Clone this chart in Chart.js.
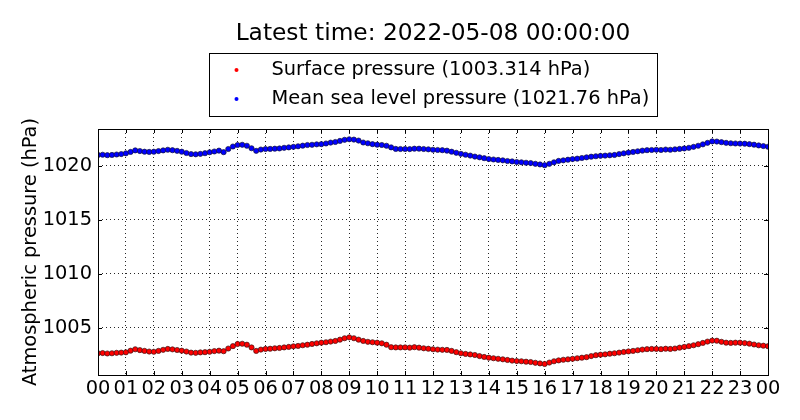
<!DOCTYPE html>
<html>
<head>
<meta charset="utf-8">
<title>Atmospheric pressure</title>
<script src="https://cdn.jsdelivr.net/npm/chart.js@4.4.0/dist/chart.umd.min.js"></script>
<style>
  html, body { margin: 0; padding: 0; background: #fff; }
  #wrap { width: 800px; height: 420px; }
</style>
</head>
<body>
<div id="wrap"><canvas id="pressureChart" width="800" height="420"></canvas></div>
<script>
// readings every 10 minutes, 00:00 to 00:00 next day
var sampleMinutes = 10;

var hourLabels = ['00', '01', '02', '03', '04', '05', '06', '07', '08', '09', '10', '11',
    '12', '13', '14', '15', '16', '17', '18', '19', '20', '21', '22', '23', '00'];

var surfacePressure = [
    1002.66, 1002.68, 1002.64, 1002.66, 1002.70, 1002.72,
    1002.75, 1002.90, 1003.03, 1002.95, 1002.88, 1002.82,
    1002.80, 1002.88, 1002.98, 1003.06, 1003.02, 1002.96,
    1002.90, 1002.82, 1002.72, 1002.70, 1002.74, 1002.76,
    1002.80, 1002.86, 1002.90, 1002.85, 1003.10, 1003.32,
    1003.52, 1003.54, 1003.45, 1003.20, 1002.88, 1003.00,
    1003.06, 1003.08, 1003.12, 1003.15, 1003.20, 1003.25,
    1003.30, 1003.34, 1003.40, 1003.45, 1003.52, 1003.58,
    1003.64, 1003.68, 1003.74, 1003.80, 1003.92, 1004.05,
    1004.13, 1004.05, 1003.92, 1003.80, 1003.72, 1003.68,
    1003.64, 1003.58, 1003.45, 1003.22, 1003.20, 1003.20,
    1003.20, 1003.18, 1003.22, 1003.18, 1003.12, 1003.08,
    1003.03, 1003.00, 1002.98, 1002.97, 1002.88, 1002.76,
    1002.66, 1002.60, 1002.55, 1002.50, 1002.40, 1002.32,
    1002.25, 1002.20, 1002.15, 1002.10, 1002.04, 1001.98,
    1001.94, 1001.92, 1001.88, 1001.85, 1001.78, 1001.72,
    1001.67, 1001.80, 1001.92, 1002.00, 1002.06, 1002.10,
    1002.15, 1002.20, 1002.25, 1002.30, 1002.40, 1002.48,
    1002.53, 1002.56, 1002.62, 1002.66, 1002.72, 1002.78,
    1002.83, 1002.88, 1002.94, 1003.00, 1003.04, 1003.06,
    1003.06, 1003.04, 1003.08, 1003.06, 1003.10, 1003.18,
    1003.25, 1003.32, 1003.40, 1003.50, 1003.62, 1003.74,
    1003.83, 1003.82, 1003.72, 1003.64, 1003.62, 1003.64,
    1003.64, 1003.60, 1003.55, 1003.47, 1003.40, 1003.36,
    1003.314
];

var seaLevelPressure = [
    1021.00, 1021.02, 1020.98, 1021.00, 1021.04, 1021.08,
    1021.15, 1021.28, 1021.42, 1021.36, 1021.30, 1021.28,
    1021.30, 1021.36, 1021.42, 1021.48, 1021.44, 1021.38,
    1021.30, 1021.18, 1021.08, 1021.06, 1021.10, 1021.16,
    1021.25, 1021.32, 1021.40, 1021.26, 1021.55, 1021.78,
    1021.92, 1021.94, 1021.85, 1021.62, 1021.38, 1021.50,
    1021.55, 1021.56, 1021.58, 1021.60, 1021.66, 1021.70,
    1021.75, 1021.80, 1021.86, 1021.92, 1021.94, 1021.98,
    1022.00, 1022.06, 1022.14, 1022.20, 1022.30, 1022.40,
    1022.45, 1022.42, 1022.33, 1022.15, 1022.08, 1022.00,
    1021.95, 1021.92, 1021.85, 1021.70, 1021.56, 1021.55,
    1021.55, 1021.54, 1021.58, 1021.58, 1021.55, 1021.52,
    1021.48, 1021.46, 1021.44, 1021.40, 1021.30, 1021.20,
    1021.10, 1021.02, 1020.94, 1020.85, 1020.78, 1020.70,
    1020.62, 1020.58, 1020.54, 1020.50, 1020.44, 1020.40,
    1020.35, 1020.32, 1020.28, 1020.25, 1020.18, 1020.12,
    1020.05, 1020.18, 1020.32, 1020.45, 1020.50, 1020.56,
    1020.62, 1020.66, 1020.72, 1020.78, 1020.84, 1020.88,
    1020.92, 1020.94, 1020.97, 1021.00, 1021.08, 1021.15,
    1021.22, 1021.28, 1021.34, 1021.40, 1021.44, 1021.46,
    1021.48, 1021.46, 1021.50, 1021.48, 1021.52, 1021.56,
    1021.60, 1021.66, 1021.75, 1021.85, 1021.98, 1022.12,
    1022.25, 1022.24, 1022.18, 1022.12, 1022.08, 1022.06,
    1022.05, 1022.04, 1022.00, 1021.95, 1021.88, 1021.82,
    1021.76
];

var yTickValues = [1005, 1010, 1015, 1020];
var latestTime = '2022-05-08 00:00:00';
var surfaceLabel = 'Surface pressure (1003.314 hPa)';
var seaLevelLabel = 'Mean sea level pressure (1021.76 hPa)';

var FONT = '"DejaVu Sans", "Liberation Sans", sans-serif';
var TEXT_SIZE = 19.4;

function toPoints(values) {
    'use strict';
    return values.map(function (v, i) {
        return {x: i * sampleMinutes, y: v};
    });
}

// frame, inward ticks, title and boxed legend, drawn the matplotlib way
var decorations = {
    id: 'decorations',
    afterDraw: function (chart) {
        'use strict';
        var ctx = chart.ctx;
        var area = chart.chartArea;
        var xs = chart.scales.x;
        var ys = chart.scales.y;
        var tick = 4;

        ctx.save();
        ctx.strokeStyle = '#000';
        ctx.lineWidth = 1;
        ctx.strokeRect(Math.round(area.left) + 0.5, Math.round(area.top) + 0.5,
            Math.round(area.right - area.left), Math.round(area.bottom - area.top));

        ctx.beginPath();
        xs.ticks.forEach(function (t) {
            var px = Math.round(xs.getPixelForValue(t.value)) + 0.5;
            ctx.moveTo(px, area.bottom);
            ctx.lineTo(px, area.bottom - tick);
            ctx.moveTo(px, area.top);
            ctx.lineTo(px, area.top + tick);
        });
        ys.ticks.forEach(function (t) {
            var py = Math.round(ys.getPixelForValue(t.value)) + 0.5;
            ctx.moveTo(area.left, py);
            ctx.lineTo(area.left + tick, py);
            ctx.moveTo(area.right, py);
            ctx.lineTo(area.right - tick, py);
        });
        ctx.stroke();

        var cx = (area.left + area.right) / 2;
        ctx.fillStyle = '#000';
        ctx.textAlign = 'center';
        ctx.textBaseline = 'middle';
        ctx.font = '23.3px ' + FONT;
        ctx.fillText('Latest time: ' + latestTime, cx, 34);

        // legend box
        var boxW = 448, boxH = 63, boxTop = 53.5;
        var boxLeft = Math.round(cx - boxW / 2) + 0.5;
        ctx.fillStyle = '#fff';
        ctx.fillRect(boxLeft, boxTop, boxW, boxH);
        ctx.strokeRect(boxLeft, boxTop, boxW, boxH);

        ctx.font = TEXT_SIZE + 'px ' + FONT;
        ctx.textAlign = 'left';
        chart.data.datasets.forEach(function (ds, i) {
            var ly = 70 + i * 29;
            ctx.beginPath();
            ctx.arc(boxLeft + 27, ly, 2, 0, Math.PI * 2);
            ctx.fillStyle = ds.backgroundColor;
            ctx.fill();
            ctx.fillStyle = '#000';
            ctx.fillText(ds.label, boxLeft + 62, ly);
        });
        ctx.restore();
    }
};

var gridStyle = {
    color: 'rgba(0, 0, 0, 0.85)',
    lineWidth: 1,
    drawTicks: false
};

var axisBorder = {display: false, dash: [1, 3]};

var ctx = document.getElementById('pressureChart');

var pressureChart = new Chart(ctx, {
    type: 'scatter',
    data: {
        datasets: [
            {
                label: surfaceLabel,
                data: toPoints(surfacePressure),
                backgroundColor: '#ff0000',
                borderColor: 'rgba(50, 20, 20, 0.85)',
                borderWidth: 0.8,
                pointRadius: 2.6
            },
            {
                label: seaLevelLabel,
                data: toPoints(seaLevelPressure),
                backgroundColor: '#0000ff',
                borderColor: 'rgba(20, 20, 50, 0.85)',
                borderWidth: 0.8,
                pointRadius: 2.6
            }
        ]
    },
    plugins: [decorations],
    options: {
        responsive: false,
        animation: false,
        devicePixelRatio: 1,
        layout: {
            padding: {left: 0, right: 32, top: 129, bottom: 0}
        },
        plugins: {
            legend: {display: false},
            title: {display: false},
            tooltip: {enabled: false}
        },
        scales: {
            x: {
                type: 'linear',
                min: 0,
                max: 1440,
                border: axisBorder,
                grid: gridStyle,
                ticks: {
                    stepSize: 60,
                    autoSkip: false,
                    maxRotation: 0,
                    padding: 2,
                    color: '#000',
                    font: {family: FONT, size: TEXT_SIZE},
                    callback: function (value) {
                        return hourLabels[Math.round(value / 60)];
                    }
                },
                afterFit: function (scale) {
                    scale.height = 45;
                }
            },
            y: {
                min: 1000.65,
                max: 1023.4,
                border: axisBorder,
                grid: gridStyle,
                ticks: {
                    padding: 6,
                    color: '#000',
                    font: {family: FONT, size: TEXT_SIZE},
                    callback: function (value) {
                        return String(value);
                    }
                },
                title: {
                    display: true,
                    text: 'Atmospheric pressure (hPa)',
                    color: '#000',
                    font: {family: FONT, size: TEXT_SIZE},
                    padding: {top: 19, bottom: 0}
                },
                afterBuildTicks: function (scale) {
                    scale.ticks = yTickValues.map(function (v) {
                        return {value: v};
                    });
                },
                afterFit: function (scale) {
                    scale.width = 98;
                }
            }
        }
    }
});
</script>
</body>
</html>
